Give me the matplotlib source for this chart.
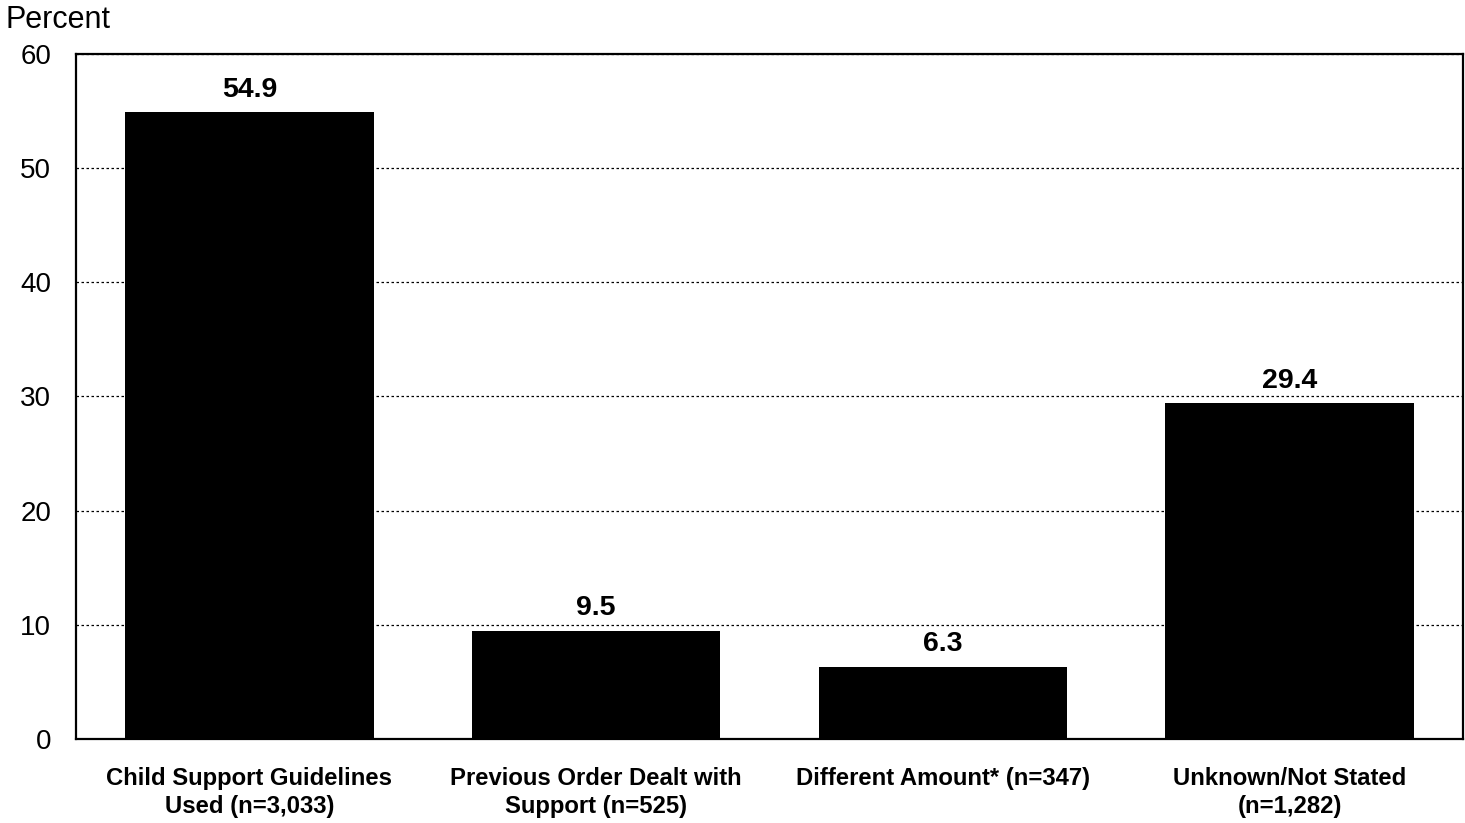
import matplotlib
matplotlib.use("Agg")
import matplotlib.pyplot as plt

categories = [
    "Child Support Guidelines\nUsed (n=3,033)",
    "Previous Order Dealt with\nSupport (n=525)",
    "Different Amount* (n=347)",
    "Unknown/Not Stated\n(n=1,282)",
]
values = [54.9, 9.5, 6.3, 29.4]
yticks = [0, 10, 20, 30, 40, 50, 60]

plt.rcParams["font.family"] = ["Liberation Sans", "DejaVu Sans"]

fig = plt.figure(figsize=(14.65, 8.23), dpi=100)
ax = fig.add_axes([0.0519, 0.1021, 0.9467, 0.8323])

x = list(range(len(categories)))
ax.bar(x, values, width=0.716, color="black", zorder=3)

# value labels above each bar
for xi, v in zip(x, values):
    ax.annotate(f"{v:.1f}", (xi, v), xytext=(0, 11.2), textcoords="offset points",
                ha="center", va="baseline", fontsize=20.5, fontweight="bold")

ax.set_xlim(-0.5, len(categories) - 0.5)
ax.set_ylim(0, 60)
ax.set_yticks(yticks)
ax.set_xticks(x)
ax.set_xticklabels(categories, fontsize=17.2, fontweight="bold", linespacing=1.27)
ax.tick_params(axis="y", length=0, pad=18, labelsize=20)
ax.tick_params(axis="x", length=0, pad=20)

ax.yaxis.grid(True, color="black", linestyle=(0, (2, 2)), linewidth=0.9, zorder=1)
ax.set_axisbelow(True)
for s in ax.spines.values():
    s.set_linewidth(1.6)
    s.set_zorder(4)

fig.text(0.004, 1 - 28.3 / 823, "Percent", fontsize=22, ha="left", va="baseline")

fig.savefig("out.png", dpi=100)
